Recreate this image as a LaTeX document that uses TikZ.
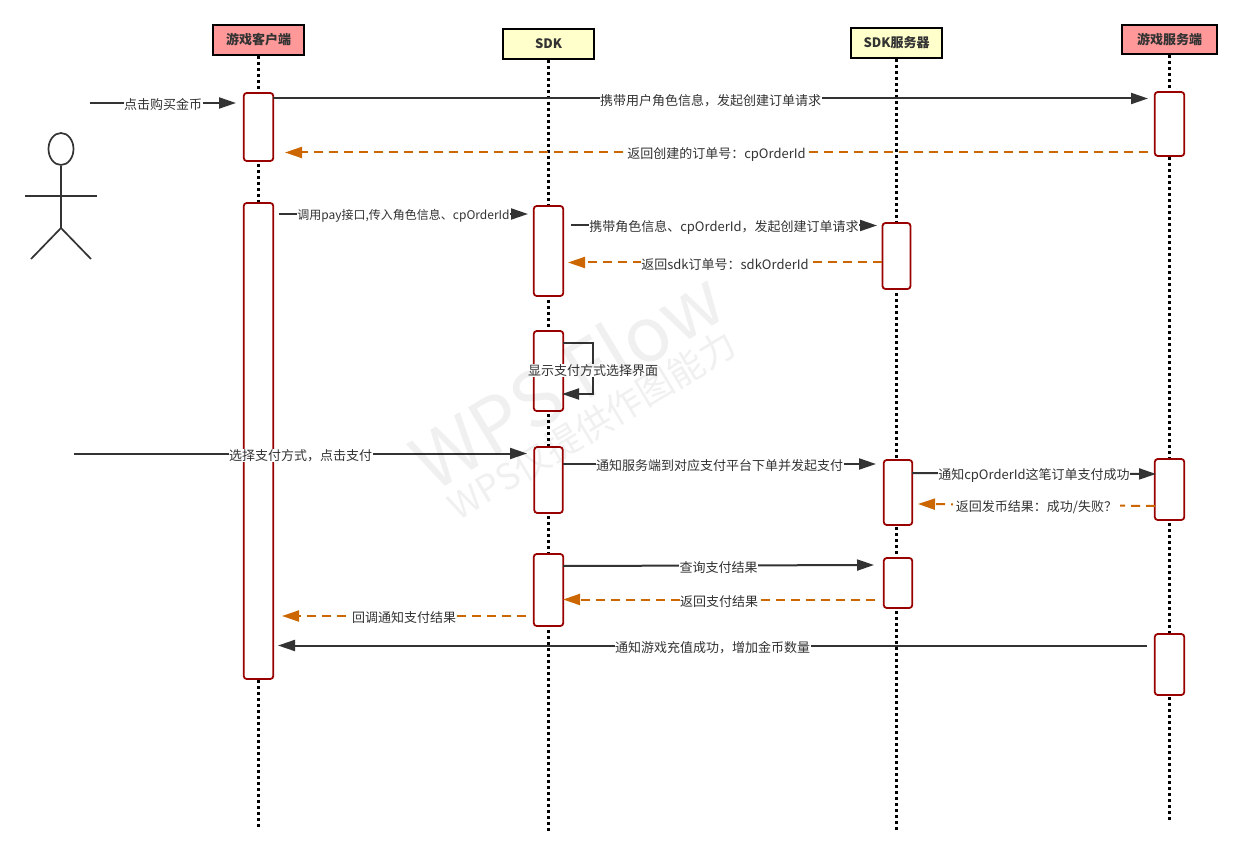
\documentclass[tikz,border=0pt]{standalone}
\usepackage{fontspec}
\setmainfont{Noto Sans CJK SC}
\usetikzlibrary{arrows.meta, shapes.geometric}
\definecolor{inkc}{HTML}{333333}
\definecolor{redc}{HTML}{990000}
\definecolor{orangec}{HTML}{CC6600}
\definecolor{pinkc}{HTML}{FF9999}
\definecolor{creamc}{HTML}{FFFFCC}

\tikzset{
  headbox/.style={draw=black, line width=2pt, minimum width=91pt, minimum height=30pt, inner sep=0pt,
    text=inkc, font=\fontsize{13}{15}\selectfont\bfseries},
  actbox/.style={draw=redc, fill=white, line width=1.8pt, rounded corners=3pt, minimum width=29.5pt, inner sep=0pt},
  lifeline/.style={line width=2.2pt, dash pattern=on 3pt off 3pt},
  msg/.style={->, draw=inkc, line width=2pt},
  reply/.style={->, draw=orangec, line width=2pt, dash pattern=on 9pt off 6pt},
  lbl/.style={fill=white, inner sep=0.5pt, text=inkc, yshift=-2pt, font=\fontsize{13}{15}\selectfont},
  actorline/.style={draw=inkc, line width=1.7pt},
  mark text/.style={black, opacity=0.06, rotate=31}
}

\begin{document}
\begin{tikzpicture}[x=1pt, y=-1pt, >={Triangle[length=17pt, width=11pt]}]
  \useasboundingbox (0,0) rectangle (1241,858);

  % heads
  \node[headbox, fill=pinkc] (client) at (258.5,40) {游戏客户端};
  \node[headbox, fill=creamc] (sdk) at (548.5,44) {SDK};
  \node[headbox, fill=creamc] (sdksrv) at (896.5,43) {SDK服务器};
  \node[headbox, fill=pinkc, minimum width=95pt, minimum height=29pt] (gamesrv) at (1169.5,39.5) {游戏服务端};

  % lifelines
  \coordinate (clientend) at (258.5,828);
  \coordinate (sdkend) at (548.5,832);
  \coordinate (sdksrvend) at (896.5,830);
  \coordinate (gamesrvend) at (1169.5,822);
  \draw[lifeline] (client) -- (clientend);
  \draw[lifeline] (sdk) -- (sdkend);
  \draw[lifeline] (sdksrv) -- (sdksrvend);
  \draw[lifeline] (gamesrv) -- (gamesrvend);

  % activations
  \node[actbox, minimum height=68pt] (ca) at (258.5,127) {};
  \node[actbox, minimum height=476pt] (cb) at (258.5,441) {};
  \node[actbox, minimum height=90pt] (sa) at (548.5,251) {};
  \node[actbox, minimum height=80pt] (sb) at (548.5,371) {};
  \node[actbox, minimum height=66pt, minimum width=28.5pt] (sc) at (548.5,480) {};
  \node[actbox, minimum height=72pt] (sd) at (548.5,590) {};
  \node[actbox, minimum height=66pt, minimum width=28pt] (va) at (896.5,256) {};
  \node[actbox, minimum height=65pt, minimum width=28.5pt] (vb) at (898,492.5) {};
  \node[actbox, minimum height=50pt, minimum width=28.5pt] (vc) at (898,583) {};
  \node[actbox, minimum height=64pt] (ga) at (1169.5,124) {};
  \node[actbox, minimum height=61pt] (gb) at (1169.5,489.5) {};
  \node[actbox, minimum height=61pt] (gc) at (1169.5,664.5) {};

  % actor
  \node[ellipse, actorline, minimum width=25pt, minimum height=32pt, inner sep=0pt] (head) at (61,149) {};
  \coordinate (hip) at (61,228);
  \coordinate (armL) at (25,196);
  \coordinate (armR) at (97,196);
  \coordinate (legL) at (31,259);
  \coordinate (legR) at (91,259);
  \draw[actorline] (head) -- (hip);
  \draw[actorline] (armL) -- (armR);
  \draw[actorline] (legL) -- (hip) -- (legR);

  % free ends of messages
  \coordinate (m1a) at (90,103);    \coordinate (m1b) at (236,103);
  \coordinate (m2a) at (273,98.5);  \coordinate (m2b) at (1148,98.5);
  \coordinate (m3a) at (1148,152.5); \coordinate (m3b) at (285,152.5);
  \coordinate (m4a) at (279,214);   \coordinate (m4b) at (528,214);
  \coordinate (m5a) at (571,225.5); \coordinate (m5b) at (877,225.5);
  \coordinate (m6a) at (882,262.5); \coordinate (m6b) at (568,262.5);
  \coordinate (s1) at (563,343);    \coordinate (s2) at (593,343);
  \coordinate (s3) at (593,394);    \coordinate (s4) at (562,394);
  \coordinate (m8a) at (74,453.5);  \coordinate (m8b) at (527,453.5);
  \coordinate (m9a) at (563,464);   \coordinate (m9b) at (876,464);
  \coordinate (m10a) at (912,473);  \coordinate (m10b) at (1156,474);
  \coordinate (m11a) at (1155,506); \coordinate (m11b) at (918,504);
  \coordinate (m12a) at (563,566);  \coordinate (m12b) at (874,565);
  \coordinate (m13a) at (875,599.5); \coordinate (m13b) at (563,599.5);
  \coordinate (m14a) at (526,616);  \coordinate (m14b) at (282,616);
  \coordinate (m15a) at (1147,645.5); \coordinate (m15b) at (278,645.5);

  % messages
  \draw[msg] (m1a) -- node[lbl] {点击购买金币} (m1b);
  \draw[msg] (m2a) -- node[lbl] {携带用户角色信息，发起创建订单请求} (m2b);
  \draw[reply] (m3a) -- node[lbl] {返回创建的订单号：cpOrderId} (m3b);
  \draw[msg] (m4a) -- node[lbl, font=\fontsize{12}{14}\selectfont] {调用pay接口,传入角色信息、cpOrderId} (m4b);
  \draw[msg] (m5a) -- node[lbl] {携带角色信息、cpOrderId，发起创建订单请求} (m5b);
  \draw[reply] (m6a) -- node[lbl] {返回sdk订单号：sdkOrderId} (m6b);
  \draw[msg] (s1) -- (s2) -- node[lbl] {显示支付方式选择界面} (s3) -- (s4);
  \draw[msg] (m8a) -- node[lbl] {选择支付方式，点击支付} (m8b);
  \draw[msg] (m9a) -- node[lbl] {通知服务端到对应支付平台下单并发起支付} (m9b);
  \draw[msg] (m10a) -- node[lbl] {通知cpOrderId这笔订单支付成功} (m10b);
  \draw[reply] (m11a) -- node[lbl, inner xsep=3pt] {返回发币结果：成功/失败？} (m11b);
  \draw[msg] (m12a) -- node[lbl] {查询支付结果} (m12b);
  \draw[reply] (m13a) -- node[lbl] {返回支付结果} (m13b);
  \draw[reply] (m14a) -- node[lbl] {回调通知支付结果} (m14b);
  \draw[msg] (m15a) -- node[lbl] {通知游戏充值成功，增加金币数量} (m15b);

  % watermark
  \node[mark text, font=\fontsize{76}{84}\selectfont] (flowmark) at (567,379) {WPS Flow};
  \node[mark text, font=\fontsize{36}{40}\selectfont] (wpsmark) at (592,425) {WPS仅提供作图能力};
\end{tikzpicture}
\end{document}
